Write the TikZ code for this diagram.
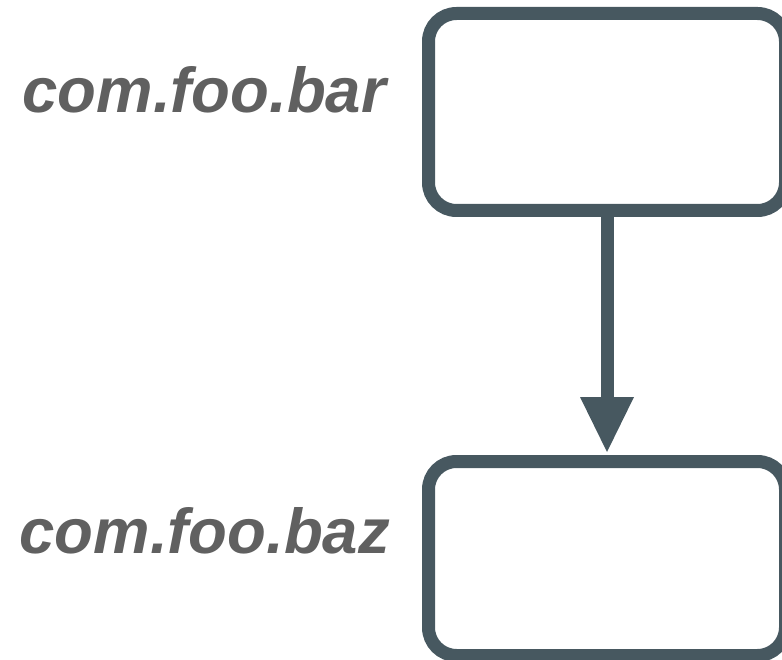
\documentclass[tikz,border=0pt]{standalone}
\usepackage{fontspec}
\setmainfont{Liberation Sans}
\usetikzlibrary{arrows.meta}
\definecolor{slate}{RGB}{71,88,96}
\definecolor{labelgray}{RGB}{96,96,96}
\begin{document}
\begin{tikzpicture}[x=1pt, y=-1pt, line width=13pt, pkg node/.style={rectangle,draw=slate,rounded corners=28pt,minimum width=357pt,minimum height=197pt,inner sep=0pt},pkg label/.style={font=\fontsize{63.5}{72}\selectfont\bfseries\itshape,text=labelgray,inner sep=0pt}]%
\useasboundingbox (0,0) rectangle (782,660);
\begin{scope}
\node[pkg node] (bar) at (607,112) {};
\node[pkg node, minimum height=194pt] (baz) at (607,558.5) {};
\node[pkg label, anchor=base west] (barlabel) at (16,113) {com.foo.bar};
\node[pkg label, anchor=base west] (bazlabel) at (13,553) {com.foo.baz};
%\node[pkg label] () at (,) {};
\end{scope}
\begin{scope}
\draw[color=slate, -{Triangle[width=54pt,length=55pt,line width=0pt]}, shorten >=3pt] (bar) edge (baz);
\end{scope}
\end{tikzpicture}
\end{document}
